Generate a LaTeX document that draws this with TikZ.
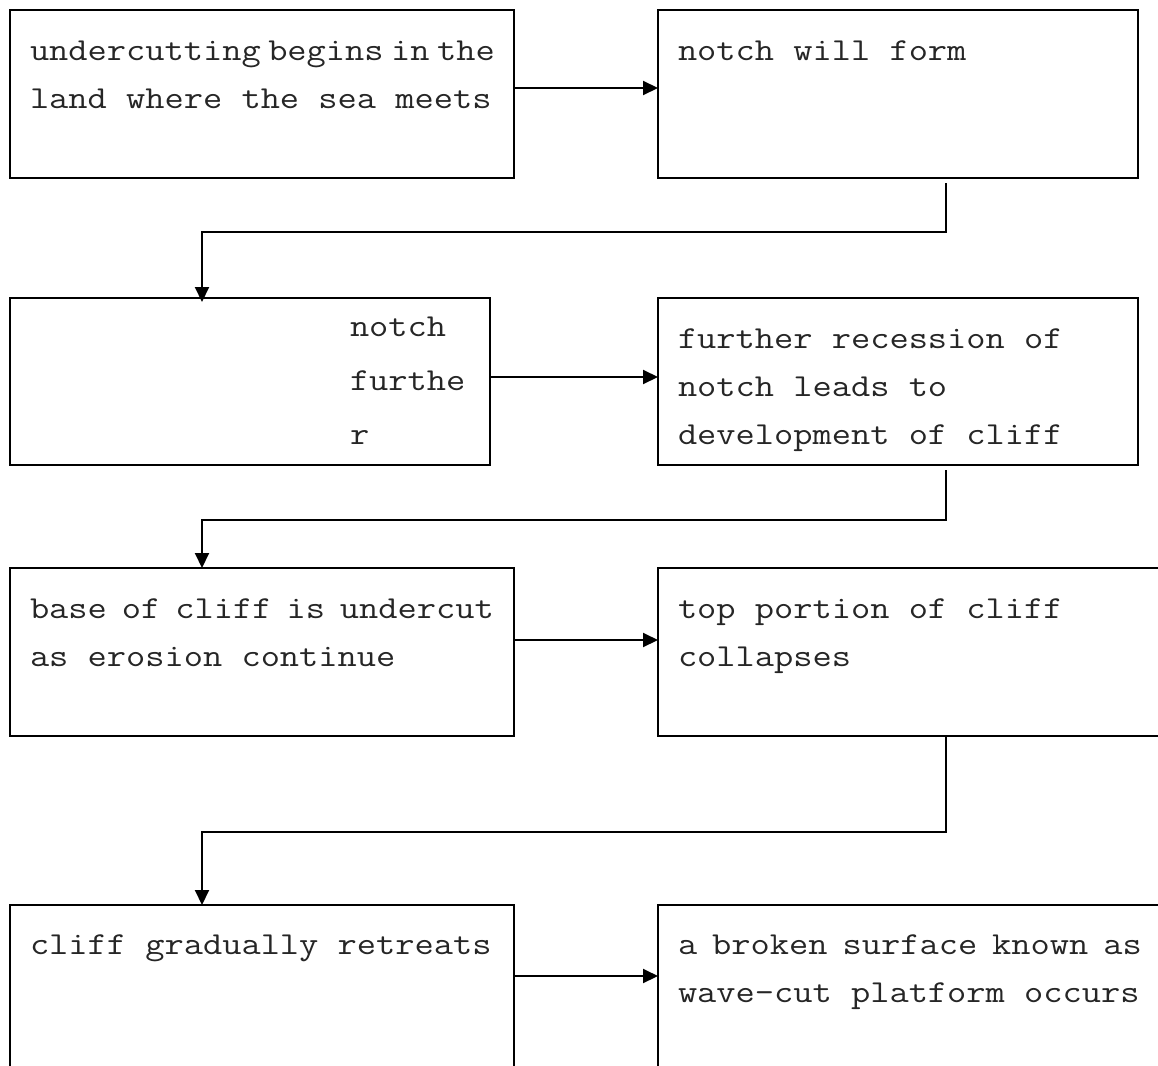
\documentclass[tikz,border=0pt]{standalone}
\usepackage{fontspec}
\newfontfamily\flowmono[FakeStretch=1.167]{Latin Modern Mono}
\usetikzlibrary{arrows.meta}
\begin{document}
\begin{tikzpicture}[x=1pt,y=-1pt,
  box/.style={draw=black, line width=2pt, rectangle, inner sep=0pt, outer sep=0pt, anchor=north west},
  txt/.style={anchor=base west, inner sep=0pt, outer sep=0pt, font=\flowmono\fontsize{32}{48}\selectfont, text=black!85},
  arr/.style={draw=black, line width=2pt, -{Triangle[length=15pt,width=14pt]}}]
\useasboundingbox (0,0) rectangle (1158,1065);
\clip (0,0) rectangle (1158,1065);
\fill[white] (0,0) rectangle (1158,1065);
% boxes
\node[box, minimum width=504pt, minimum height=168pt] (b1) at (10,10) {};
\node[box, minimum width=480pt, minimum height=168pt] (b2) at (658,10) {};
\node[box, minimum width=480pt, minimum height=167pt] (b3) at (10,298) {};
\node[box, minimum width=480pt, minimum height=167pt] (b4) at (658,298) {};
\node[box, minimum width=504pt, minimum height=168pt] (b5) at (10,568) {};
\node[box, minimum width=540pt, minimum height=168pt] (b6) at (658,568) {};
\node[box, minimum width=504pt, minimum height=220pt] (b7) at (10,905) {};
\node[box, minimum width=540pt, minimum height=220pt] (b8) at (658,905) {};
% texts
\node[txt] (t1a) at (30,60) {undercutting\hspace{7.5pt}begins\hspace{7.5pt}in\hspace{7.5pt}the};
\node[txt] (t1b) at (30,108) {land where the sea meets};
\node[txt] (t2a) at (678,60) {notch will form};
\node[txt] (t3a) at (350,336) {notch};
\node[txt] (t3b) at (350,390) {furthe};
\node[txt] (t3c) at (350,444) {r};
\node[txt] (t4a) at (678,348) {further recession of};
\node[txt] (t4b) at (678,396) {notch leads to};
\node[txt] (t4c) at (678,444) {development of cliff};
\node[txt] (t5a) at (30,618) {base\hspace{15pt}of\hspace{15pt}cliff\hspace{15pt}is\hspace{15pt}undercut};
\node[txt] (t5b) at (30,666) {as erosion continue};
\node[txt] (t6a) at (678,618) {top portion of cliff};
\node[txt] (t6b) at (678,666) {collapses};
\node[txt] (t7a) at (30,954) {cliff gradually retreats};
\node[txt] (t8a) at (678,954) {a\hspace{15pt}broken\hspace{15pt}surface\hspace{15pt}known\hspace{15pt}as};
\node[txt] (t8b) at (678,1002) {wave-cut platform occurs};
% horizontal arrows
\coordinate (a1s) at ([yshift=6pt]b1.east);
\coordinate (a2s) at ([yshift=4.5pt]b3.east);
\coordinate (a3s) at ([yshift=12pt]b5.east);
\coordinate (a4s) at ([yshift=39pt]b7.east);
\draw[arr] (a1s) -- (a1s -| b2.west);
\draw[arr] (a2s) -- (a2s -| b4.west);
\draw[arr] (a3s) -- (a3s -| b6.west);
\draw[arr] (a4s) -- (a4s -| b8.west);
% elbow connectors
\coordinate (k1s) at (946,183);
\coordinate (k1e) at (202,302);
\coordinate (k2s) at (946,470);
\coordinate (k2e) at (202,568);
\coordinate (k3s) at (946,736);
\coordinate (k3e) at (202,905);
\draw[arr] (k1s) -- ++(0,49) -| (k1e);
\draw[arr] (k2s) -- ++(0,50) -| (k2e);
\draw[arr] (k3s) -- ++(0,96) -| (k3e);
\end{tikzpicture}
\end{document}
